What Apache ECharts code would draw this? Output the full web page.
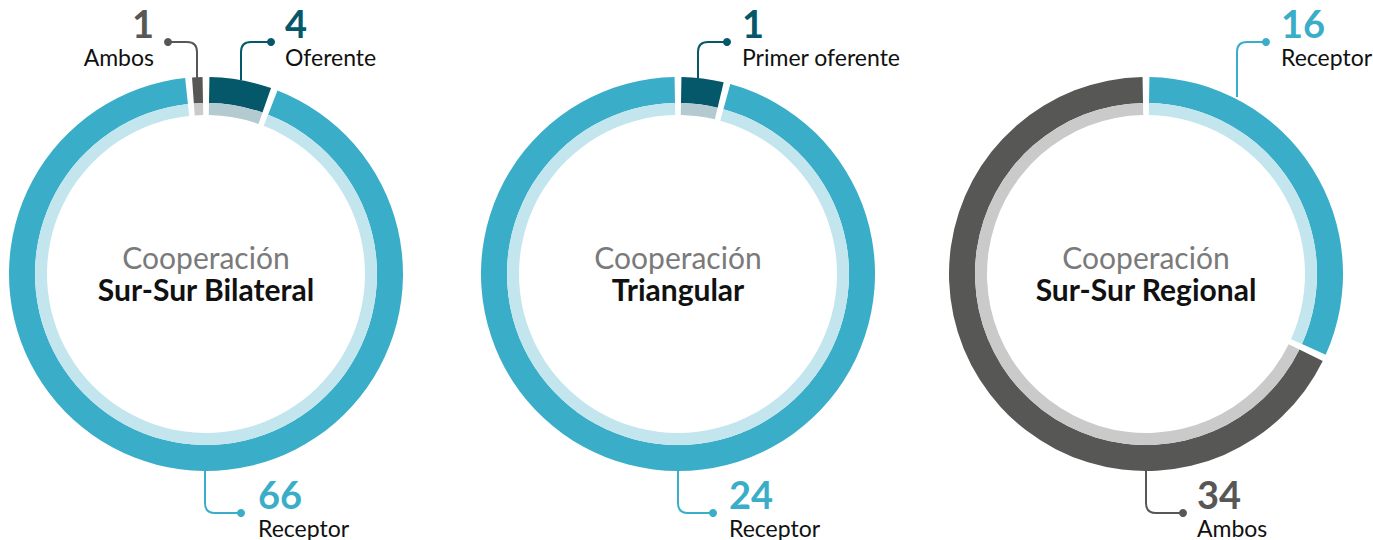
<!DOCTYPE html>
<html>
<head>
<meta charset="utf-8">
<script src="https://cdn.jsdelivr.net/npm/echarts@6/dist/echarts.min.js"></script>
<style>
  html, body { margin: 0; padding: 0; background: #fff; }
  #coop { width: 1373px; height: 540px; }
</style>
</head>
<body>
<div id="coop"></div>
<script>
var coop = echarts.init(document.getElementById('coop'), null, {renderer: 'svg'});

// datos
var chartTitles = ['Sur-Sur Bilateral', 'Triangular', 'Sur-Sur Regional'];
var bilateralNames = ['Oferente', 'Receptor', 'Ambos'];
var bilateralValues = [4, 66, 1];
var triangularNames = ['Primer oferente', 'Receptor'];
var triangularValues = [1, 24];
var regionalNames = ['Receptor', 'Ambos'];
var regionalValues = [16, 34];

// colores por rol: [anillo, anillo interior]
var roleColors = {
    'Oferente': ['#04586a', '#b3cbd0'],
    'Primer oferente': ['#04586a', '#b3cbd0'],
    'Receptor': ['#3aaec8', '#c3e5ee'],
    'Ambos': ['#575756', '#cacaca']
};
var richKey = {'Oferente': 'o', 'Primer oferente': 'o', 'Receptor': 'r', 'Ambos': 'a'};

var centersX = [206, 678, 1146];
var centerY = 274;

// posicion de las etiquetas (x, y, align) y lineas guia
var labelPos = [
    [[285, 5, 'left'], [258, 476, 'left'], [154, 5, 'right']],
    [[742, 5, 'left'], [729, 476, 'left']],
    [[1281, 5, 'left'], [1197, 476, 'left']]
];
var leaders = [
    [[241, 80, 271, 42], [205, 470, 241, 513], [197, 80, 168, 42]],
    [[698, 80, 727, 42], [678, 470, 713, 513]],
    [[1237, 97, 1266, 42], [1146, 469, 1183, 513]]
];

var sets = [
    [bilateralNames, bilateralValues],
    [triangularNames, triangularValues],
    [regionalNames, regionalValues]
];

var series = [];
var graphic = [];

sets.forEach(function (s, ci) {
    var names = s[0], vals = s[1];
    var outerData = names.map(function (n, i) {
        return {name: n, value: vals[i], itemStyle: {color: roleColors[n][0]}};
    });
    var innerData = names.map(function (n, i) {
        return {name: n, value: vals[i], itemStyle: {color: roleColors[n][1]}};
    });
    series.push({
        type: 'pie',
        center: [centersX[ci], centerY],
        radius: [171, 197],
        startAngle: 90,
        padAngle: 2,
        silent: true,
        animation: false,
        avoidLabelOverlap: false,
        data: outerData,
        label: {
            show: true,
            position: 'outside',
            overflow: 'none',
            edgeDistance: 0,
            bleedMargin: 0,
            formatter: function (p) {
                return '{' + richKey[p.name] + '|' + p.value + '}\n{n|' + p.name + '}';
            },
            rich: {
                o: {fontFamily: 'Lato', fontWeight: 'bold', fontSize: 38, color: '#04586a', lineHeight: 36},
                r: {fontFamily: 'Lato', fontWeight: 'bold', fontSize: 38, color: '#3aaec8', lineHeight: 36},
                a: {fontFamily: 'Lato', fontWeight: 'bold', fontSize: 38, color: '#575756', lineHeight: 36},
                n: {fontFamily: 'Lato', fontSize: 23, color: '#111', lineHeight: 32}
            }
        },
        labelLine: {show: false},
        labelLayout: function (params) {
            var p = labelPos[ci][params.dataIndex];
            return {x: p[0], y: p[1], align: p[2], verticalAlign: 'top', hideOverlap: false};
        }
    });
    series.push({
        type: 'pie',
        center: [centersX[ci], centerY],
        radius: [159, 171],
        startAngle: 90,
        padAngle: 2,
        silent: true,
        animation: false,
        label: {show: false},
        labelLine: {show: false},
        data: innerData
    });

    // texto central
    graphic.push({
        type: 'text', x: centersX[ci], y: 257,
        style: {text: 'Cooperación', font: '30px Lato', fill: '#7a7a7a', align: 'center', verticalAlign: 'middle'}
    });
    graphic.push({
        type: 'text', x: centersX[ci], y: 289,
        style: {text: chartTitles[ci], font: 'bold 30px Lato', fill: '#111', align: 'center', verticalAlign: 'middle'}
    });

    // lineas guia: tramo vertical, codo curvo y tramo horizontal con punto
    names.forEach(function (n, i) {
        var l = leaders[ci][i];
        var x0 = l[0], y0 = l[1], x1 = l[2], y1 = l[3];
        var sx = x1 > x0 ? 1 : -1, sy = y1 > y0 ? 1 : -1;
        var r = 10;
        var col = roleColors[n][0];
        graphic.push({
            type: 'line', shape: {x1: x0, y1: y0, x2: x0, y2: y1 - sy * r},
            style: {stroke: col, lineWidth: 2}
        });
        graphic.push({
            type: 'bezierCurve',
            shape: {x1: x0, y1: y1 - sy * r, cpx1: x0, cpy1: y1, x2: x0 + sx * r, y2: y1},
            style: {fill: 'none', stroke: col, lineWidth: 2}
        });
        graphic.push({
            type: 'line', shape: {x1: x0 + sx * r, y1: y1, x2: x1, y2: y1},
            style: {stroke: col, lineWidth: 2}
        });
        graphic.push({
            type: 'circle', shape: {cx: x1, cy: y1, r: 4},
            style: {fill: col}
        });
    });
});

var coop_option = {
    animation: false,
    series: series,
    graphic: graphic
};

coop.setOption(coop_option);
</script>
</body>
</html>
